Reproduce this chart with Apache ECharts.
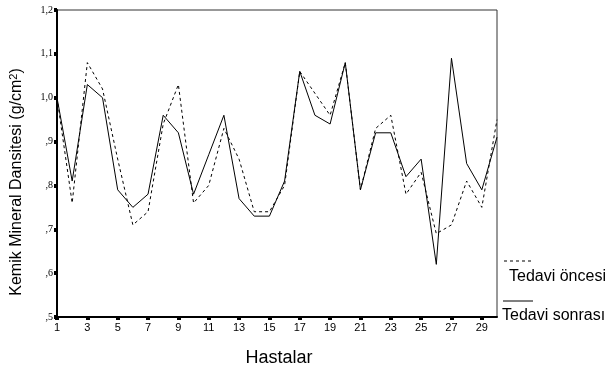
<!DOCTYPE html>
<html>
<head>
<meta charset="utf-8">
<script src="https://cdn.jsdelivr.net/npm/echarts@6/dist/echarts.min.js"></script>
<style>html,body{margin:0;padding:0;background:#fff}#c{width:608px;height:372px}</style>
</head>
<body>
<div id="c"></div>
<script>
var categories = ['1','2','3','4','5','6','7','8','9','10','11','12','13','14','15','16','17','18','19','20','21','22','23','24','25','26','27','28','29','30'];
var tedaviOncesi = [1.00,0.76,1.08,1.02,0.86,0.71,0.74,0.94,1.03,0.76,0.80,0.93,0.86,0.74,0.74,0.80,1.06,1.01,0.96,1.08,0.79,0.93,0.96,0.78,0.83,0.69,0.71,0.81,0.75,0.95];
var tedaviSonrasi = [1.00,0.81,1.03,1.00,0.79,0.75,0.78,0.96,0.92,0.78,0.87,0.96,0.77,0.73,0.73,0.81,1.06,0.96,0.94,1.08,0.79,0.92,0.92,0.82,0.86,0.62,1.09,0.85,0.79,0.91];
var yTickLabels = [',5', ',6', ',7', ',8', ',9', '1,0', '1,1', '1,2'];
var seriesNames = ['Tedavi öncesi', 'Tedavi sonrası'];
var xTitle = 'Hastalar';
var yTitle = '{t|Kemik Mineral Dansitesi (g/cm}{s|2}{t|)}';

var chart = echarts.init(document.getElementById('c'), null, {renderer: 'canvas'});
chart.setOption({
  animation: false,
  backgroundColor: '#fff',
  grid: {left: 57, right: 111, top: 10, bottom: 54, show: true, borderColor: '#333', borderWidth: 1, backgroundColor: 'transparent'},
  xAxis: {
    type: 'category', data: categories, boundaryGap: false,
    name: xTitle, nameLocation: 'middle', nameGap: 32,
    nameTextStyle: {fontFamily: 'Liberation Sans', fontSize: 18, color: '#000', padding: [0, 0, 0, 4]},
    axisLine: {lineStyle: {color: '#000', width: 2}},
    axisTick: {show: true, interval: 1, length: 3, alignWithLabel: true, lineStyle: {color: '#000', width: 4}},
    axisLabel: {interval: 1, fontFamily: 'Liberation Sans', fontSize: 11, color: '#000', margin: 5},
    splitLine: {show: false}
  },
  yAxis: {
    type: 'value', min: 0.5, max: 1.2, interval: 0.1,
    axisLine: {show: true, lineStyle: {color: '#000', width: 2}},
    axisTick: {show: true, length: 3, lineStyle: {color: '#000', width: 4}},
    axisLabel: {fontFamily: 'Liberation Serif', fontSize: 10, color: '#000', margin: 4,
      formatter: function (v) { return yTickLabels[Math.round((v - 0.5) * 10)]; }},
    splitLine: {show: false}
  },
  series: [
    {name: seriesNames[0], type: 'line', data: tedaviOncesi, symbol: 'none',
     lineStyle: {color: '#000', width: 1, type: [3, 3]}},
    {name: seriesNames[1], type: 'line', data: tedaviSonrasi, symbol: 'none',
     lineStyle: {color: '#000', width: 1}}
  ],
  graphic: [
    {type: 'text', x: 17, y: 182, rotation: Math.PI / 2,
     style: {text: yTitle, align: 'center', verticalAlign: 'middle',
       rich: {
         t: {fontFamily: 'Liberation Sans', fontSize: 16, fill: '#000', color: '#000'},
         s: {fontFamily: 'Liberation Sans', fontSize: 11, fill: '#000', color: '#000', verticalAlign: 'top', padding: [0, 0, 6, 0]}
       }}},
    {type: 'line', shape: {x1: 504, y1: 261, x2: 533, y2: 261}, style: {stroke: '#000', lineWidth: 1, lineDash: [3, 3]}},
    {type: 'text', x: 509, y: 277, style: {text: seriesNames[0], font: '16px "Liberation Sans"', fill: '#000', verticalAlign: 'middle'}},
    {type: 'line', shape: {x1: 503, y1: 301, x2: 533, y2: 301}, style: {stroke: '#000', lineWidth: 1}},
    {type: 'text', x: 502, y: 316, style: {text: seriesNames[1], font: '16px "Liberation Sans"', fill: '#000', verticalAlign: 'middle'}}
  ]
});
</script>
</body>
</html>
